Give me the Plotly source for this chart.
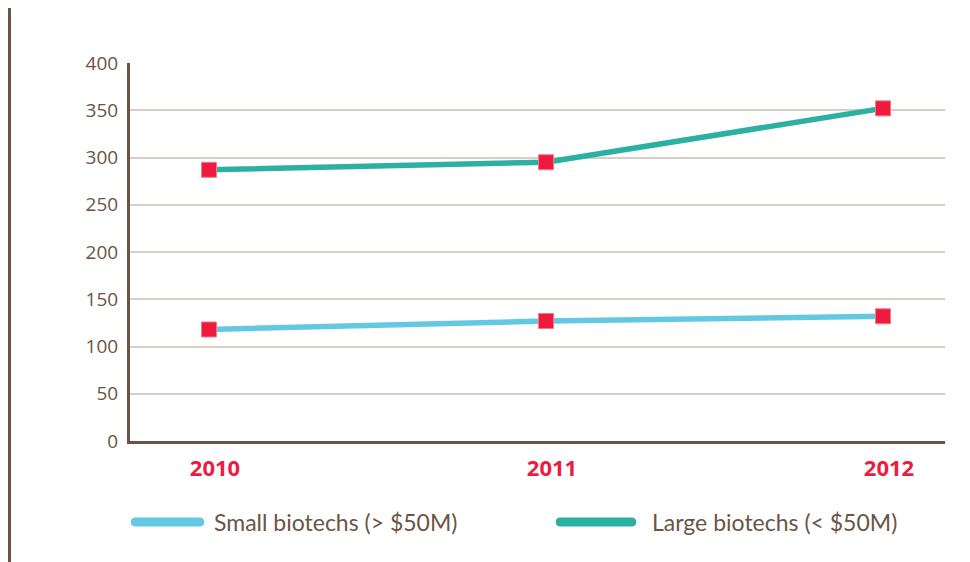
import plotly.graph_objects as go

years = ["2010", "2011", "2012"]
small_biotechs = [118, 127, 132]
large_biotechs = [287, 295, 352]
series_names = ["Small biotechs (> $50M)", "Large biotechs (< $50M)"]
y_ticks = [0, 50, 100, 150, 200, 250, 300, 350, 400]

BROWN = "#6B5444"
GRID = "#D9CDC5"
RED = "#EE1B3F"
SMALL_C = "#63C9E3"
LARGE_C = "#2BB0A2"

OFF = 8  # page body margin
W, H = 970 - OFF, 562 - OFF
L, T = 130 - OFF, 63 - OFF
R = W - (945 - OFF)
B = H - (441 - OFF)
pw, ph = W - L - R, H - T - B

def px_x(x):
    return (x - OFF - L) / pw

def px_y(y):
    return (H - B - (y - OFF)) / ph

fig = go.Figure()
xi = list(range(len(years)))
for vals, name, col in [(large_biotechs, series_names[1], LARGE_C),
                        (small_biotechs, series_names[0], SMALL_C)]:
    fig.add_trace(go.Scatter(
        x=xi, y=vals, name=name, mode="lines",
        line=dict(color=col, width=5.5), showlegend=False, hoverinfo="skip"))
for vals in [large_biotechs, small_biotechs]:
    fig.add_trace(go.Scatter(
        x=xi, y=vals, mode="markers", showlegend=False,
        marker=dict(symbol="square", size=15, color=RED,
                    line=dict(color="#F27A8E", width=1))))

shapes = []
annotations = []
# left decorative rule
shapes.append(dict(type="line", xref="paper", yref="paper",
                   x0=px_x(9.5), x1=px_x(9.5), y0=px_y(H + OFF + 5), y1=px_y(OFF - 5),
                   line=dict(color=BROWN, width=3)))

# custom legend with rounded thick lines
legend_items = [(series_names[0], SMALL_C, 130, 205, 212),
                (series_names[1], LARGE_C, 555, 637, 650)]
ly = 522
for name, col, x0, x1, tx in legend_items:
    r = 4.5
    w = x1 - x0
    path = (f"M {r},{-r} L {w - r},{-r} C {w + r*0.1},{-r} {w + r*0.1},{r} {w - r},{r} "
            f"L {r},{r} C {-r*0.1},{r} {-r*0.1},{-r} {r},{-r} Z")
    shapes.append(dict(type="path", xref="paper", yref="paper",
                       xsizemode="pixel", ysizemode="pixel",
                       xanchor=px_x(x0), yanchor=px_y(ly),
                       path=path, fillcolor=col, line=dict(width=0)))
    annotations.append(dict(xref="paper", yref="paper", x=px_x(tx), y=px_y(ly),
                            xanchor="left", yanchor="middle", showarrow=False,
                            text=name, font=dict(size=23, color=BROWN, family="Lato")))

x0_px = 209
spacing = 337
fig.update_layout(
    width=W, height=H,
    margin=dict(l=L, r=R, t=T, b=B),
    paper_bgcolor="white", plot_bgcolor="white",
    font=dict(family="Open Sans", color=BROWN),
    xaxis=dict(
        range=[(130 - x0_px) / spacing, (945 - x0_px) / spacing],
        tickmode="array", tickvals=xi, ticktext=years,
        showgrid=False, zeroline=False,
        showline=True, linecolor=BROWN, linewidth=3,
        ticks="", ticklabelstandoff=6, ticklabelshift=6,
        tickfont=dict(size=22, color=RED, family="Open Sans", weight="bold"),
    ),
    yaxis=dict(
        range=[0, 400], tickmode="array", tickvals=y_ticks,
        showgrid=True, gridcolor=GRID, gridwidth=1.5, zeroline=False,
        showline=True, linecolor=BROWN, linewidth=3,
        ticks="", ticklabelstandoff=5,
        tickfont=dict(size=19, color=BROWN, family="Open Sans"),
    ),
    shapes=shapes, annotations=annotations,
    showlegend=False,
)

fig.write_html("out.html")
